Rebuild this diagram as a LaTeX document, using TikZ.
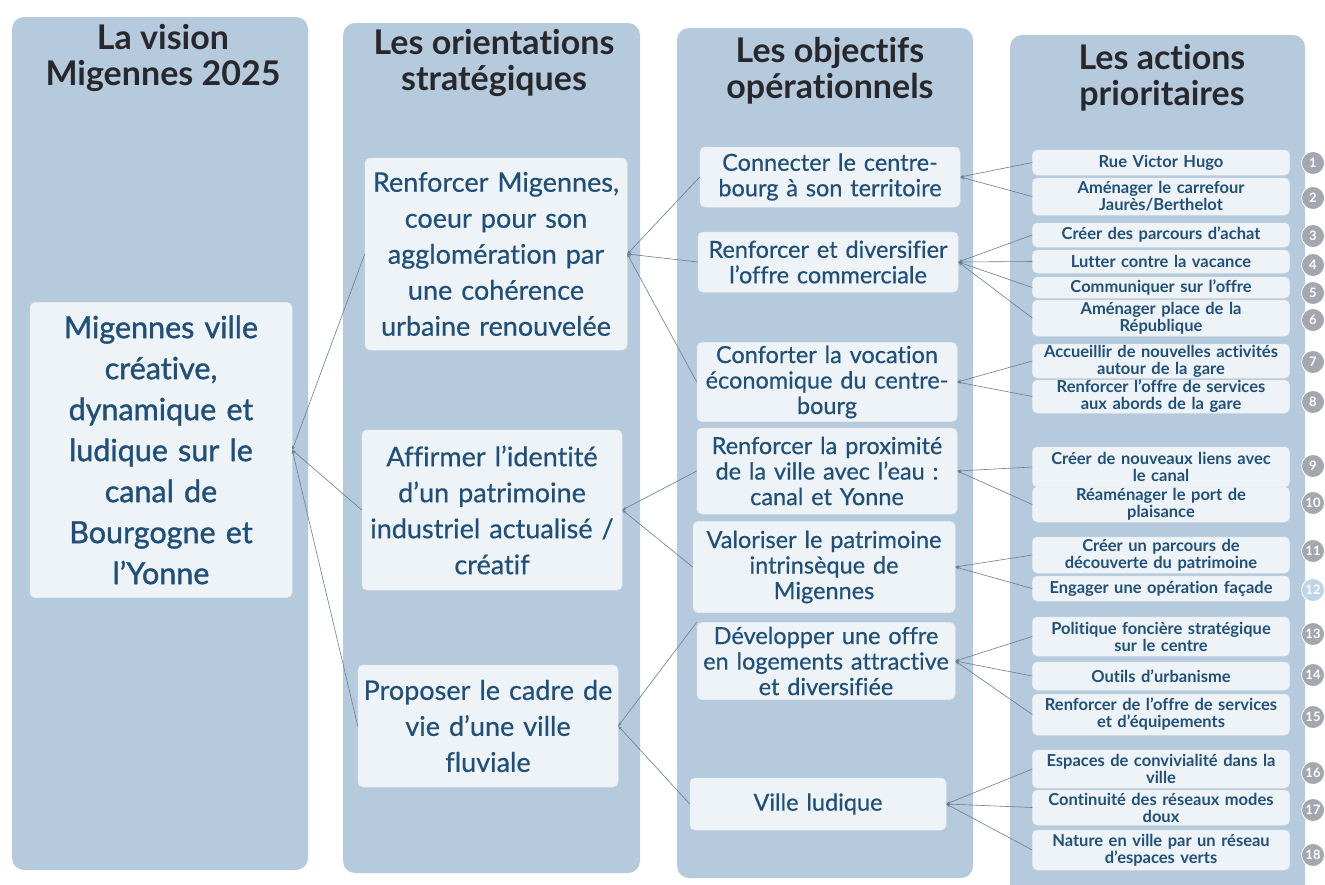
\documentclass[tikz,border=0pt]{standalone}
\usepackage{fontspec}
\setmainfont{Lato}[Ligatures={TeX,NoCommon}]
\newfontfamily\semib{Lato}[Ligatures={TeX,NoCommon},FakeBold=1.2]
\newfontfamily\medf{Lato}[Ligatures={TeX,NoCommon},FakeBold=0.5]
\usetikzlibrary{arrows.meta}
\definecolor{colbg}{RGB}{181,203,221}
\definecolor{boxc}{RGB}{238,243,248}
\definecolor{txtb}{RGB}{32,80,122}
\definecolor{ttl}{RGB}{40,40,44}
\definecolor{connc}{RGB}{105,125,145}
\definecolor{numg}{RGB}{165,167,176}
\definecolor{numb}{RGB}{190,215,232}
\tikzset{
  ttlnode/.style={text=ttl, align=center, font=\fontsize{34}{36}\selectfont\bfseries, inner sep=0pt},
  wbox/.style={fill=boxc, rounded corners=5pt, draw=white!85!gray, line width=0.5pt, inner sep=0pt, align=center, text=txtb},
  visbox/.style={wbox, font=\semib\fontsize{30.5}{41}\selectfont, text width=255pt},
  obox/.style={wbox, font=\medf\fontsize{27}{36}\selectfont, text width=255pt},
  jbox/.style={wbox, font=\medf\fontsize{23.5}{25.5}\selectfont, text width=255pt},
  abox/.style={wbox, minimum width=257pt, font=\fontsize{16.5}{17}\selectfont\bfseries, text width=257pt},
  numc/.style={circle, fill=numg, draw=white, line width=0.8pt, minimum size=23pt, inner sep=0pt, text=white, font=\fontsize{13}{13}\selectfont\bfseries},
  conn/.style={draw=connc, line width=0.6pt, {Stealth[length=4pt,width=3pt]}-}
}
\begin{document}
\begin{tikzpicture}[x=1pt,y=-1pt]
\useasboundingbox[fill=white] (0,0) rectangle (1325,884);
% columns
\fill[colbg, rounded corners=12pt] (12,17) rectangle (308,870);
\fill[colbg, rounded corners=12pt] (343,23) rectangle (640,873);
\fill[colbg, rounded corners=12pt] (677,28) rectangle (973,878);
\fill[colbg, rounded corners=12pt] (1010,35) rectangle (1305,900);
% titles
\node[ttlnode] (t1) at (163,58) {La vision\\Migennes 2025};
\node[ttlnode] (t2) at (494,63) {Les orientations\\stratégiques};
\node[ttlnode] (t3) at (830,71) {Les objectifs\\opérationnels};
\node[ttlnode] (t4) at (1162,78) {Les actions\\prioritaires};
% vision
\node[visbox, minimum width=262pt, minimum height=295pt] (vis) at (161,450) {Migennes ville\\créative,\\dynamique et\\ludique sur le\\canal de\\Bourgogne et\\l'Yonne};
% orientations
\node[obox, minimum width=262pt, minimum height=192pt] (o1) at (496,254) {Renforcer Migennes,\\coeur pour son\\agglomération par\\une cohérence\\urbaine renouvelée};
\node[obox, minimum width=260pt, minimum height=160pt] (o2) at (492,510) {Affirmer l'identité\\d'un patrimoine\\industriel actualisé /\\créatif};
\node[obox, minimum width=260pt, minimum height=122pt] (o3) at (488,726) {Proposer le cadre de\\vie d'une ville\\fluviale};
% objectives
\node[jbox, minimum width=260pt, minimum height=60pt] (j1) at (830,177) {Connecter le centre-\\bourg à son territoire};
\node[jbox, minimum width=260pt, minimum height=60pt] (j2) at (828,262) {Renforcer et diversifier\\l’offre commerciale};
\node[jbox, minimum width=260pt, minimum height=79pt] (j3) at (827,382) {Conforter la vocation\\économique du centre-\\bourg};
\node[jbox, minimum width=260pt, minimum height=86pt] (j4) at (827,471) {Renforcer la proximité\\de la ville avec l’eau :\\canal et Yonne};
\node[jbox, minimum width=262pt, minimum height=91pt] (j5) at (824,567) {Valoriser le patrimoine\\intrinsèque de\\Migennes};
\node[jbox, minimum width=258pt, minimum height=77pt] (j6) at (826,661) {Développer une offre\\en logements attractive\\et diversifiée};
\node[jbox, minimum width=256pt, minimum height=52pt] (j7) at (818,804) {Ville ludique};
% actions
\node[abox, minimum height=25pt] (a1) at (1161,162.5) {Rue Victor Hugo};
\node[abox, minimum height=37pt] (a2) at (1161,196.5) {Aménager le carrefour\\Jaurès/Berthelot};
\node[abox, minimum height=24pt] (a3) at (1161,235) {Créer des parcours d’achat};
\node[abox, minimum height=23pt] (a4) at (1161,261.5) {Lutter contre la vacance};
\node[abox, minimum height=21pt] (a5) at (1161,287.5) {Communiquer sur l’offre};
\node[abox, minimum height=36pt] (a6) at (1161,318) {Aménager place de la\\République};
\node[abox, minimum height=34pt] (a7) at (1161,361) {Accueillir de nouvelles activités\\autour de la gare};
\node[abox, minimum height=33pt] (a8) at (1161,396.5) {Renforcer l’offre de services\\aux abords de la gare};
\node[abox, minimum height=40pt] (a9) at (1161,467) {Créer de nouveaux liens avec\\le canal};
\node[abox, minimum height=35pt] (a10) at (1161,504.5) {Réaménager le port de\\plaisance};
\node[abox, minimum height=36pt] (a11) at (1161,555) {Créer un parcours de\\découverte du patrimoine};
\node[abox, minimum height=25pt] (a12) at (1161,588.5) {Engager une opération façade};
\node[abox, minimum height=39pt] (a13) at (1161,636.5) {Politique foncière stratégique\\sur le centre};
\node[abox, minimum height=28pt] (a14) at (1161,676) {Outils d’urbanisme};
\node[abox, minimum height=41pt] (a15) at (1161,714.5) {Renforcer de l’offre de services\\et d’équipements};
\node[abox, minimum height=38pt] (a16) at (1161,769) {Espaces de convivialité dans la\\ville};
\node[abox, minimum height=35pt] (a17) at (1161,807.5) {Continuité des réseaux modes\\doux};
\node[abox, minimum height=40pt] (a18) at (1161,850) {Nature en ville par un réseau\\d’espaces verts};
% numbers
\node[numc] (n1) at (1313,163) {1};
\node[numc] (n2) at (1313,198) {2};
\node[numc] (n3) at (1313,236) {3};
\node[numc] (n4) at (1313,265) {4};
\node[numc] (n5) at (1313,293) {5};
\node[numc] (n6) at (1313,320) {6};
\node[numc] (n7) at (1313,362) {7};
\node[numc] (n8) at (1313,402) {8};
\node[numc] (n9) at (1313,466) {9};
\node[numc] (n10) at (1313,503) {10};
\node[numc] (n11) at (1313,551) {11};
\node[numc, fill=numb] (n12) at (1313,590) {12};
\node[numc] (n13) at (1313,634) {13};
\node[numc] (n14) at (1313,675) {14};
\node[numc] (n15) at (1313,717) {15};
\node[numc] (n16) at (1313,773) {16};
\node[numc] (n17) at (1313,810) {17};
\node[numc] (n18) at (1313,855) {18};
% connectors vision -> orientations
\draw[conn] (vis.east) -- (o1.west);
\draw[conn] (vis.east) -- (o2.west);
\draw[conn] (vis.east) -- (o3.west);
% orientations -> objectives
\draw[conn] (o1.east) -- (j1.west);
\draw[conn] (o1.east) -- (j2.west);
\draw[conn] (o1.east) -- (j3.west);
\draw[conn] (o2.east) -- (j4.west);
\draw[conn] (o2.east) -- (j5.west);
\draw[conn] (o3.east) -- (j6.north west);
\draw[conn] (o3.east) -- (j7.west);
% objectives -> actions
\draw[conn] (j1.east) -- (a1.west);
\draw[conn] (j1.east) -- (a2.west);
\draw[conn] (j2.east) -- (a3.west);
\draw[conn] (j2.east) -- (a4.west);
\draw[conn] (j2.east) -- (a5.west);
\draw[conn] (j2.east) -- (a6.west);
\draw[conn] (j3.east) -- (a7.west);
\draw[conn] (j3.east) -- (a8.west);
\draw[conn] (j4.east) -- (a9.west);
\draw[conn] (j4.east) -- (a10.west);
\draw[conn] (j5.east) -- (a11.west);
\draw[conn] (j5.east) -- (a12.west);
\draw[conn] (j6.east) -- (a13.west);
\draw[conn] (j6.east) -- (a14.west);
\draw[conn] (j6.east) -- (a15.west);
\draw[conn] (j7.east) -- (a16.west);
\draw[conn] (j7.east) -- (a17.west);
\draw[conn] (j7.east) -- (a18.west);
\end{tikzpicture}
\end{document}
